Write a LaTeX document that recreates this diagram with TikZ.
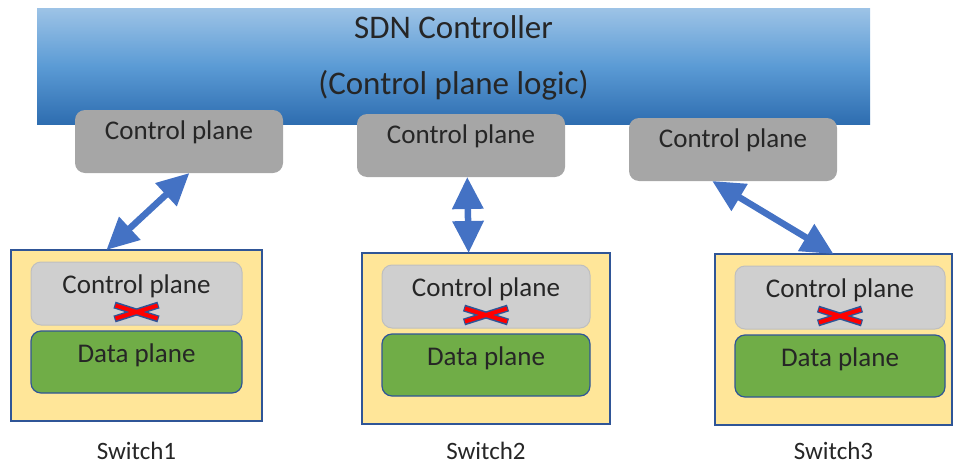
\documentclass[tikz,border=0pt]{standalone}
\usepackage{fontspec}
\setmainfont{Carlito}
\usepackage{xcolor}
\usetikzlibrary{arrows.meta,positioning,calc}

\definecolor{bartop}{HTML}{9DC3E6}
\definecolor{barmid}{HTML}{5B9BD5}
\definecolor{barbot}{HTML}{2E6DB0}
\definecolor{ctrlgray}{HTML}{A6A6A6}
\definecolor{innergray}{HTML}{CFCFCF}
\definecolor{datagreen}{HTML}{70AD47}
\definecolor{switchyellow}{HTML}{FFE699}
\definecolor{edgeblue}{HTML}{2F5597}
\definecolor{arrowblue}{HTML}{4472C4}

\begin{document}
\begin{tikzpicture}[x=1pt,y=-1pt,
    txt/.style={font=\fontsize{27}{32}\selectfont, text=black!85, inner sep=0pt},
    title/.style={font=\fontsize{33}{38}\selectfont},
    small/.style={font=\fontsize{25}{30}\selectfont},
    bar/.style={anchor=north west, minimum width=833pt, minimum height=116pt, inner sep=0pt, outer sep=0pt,
        top color=bartop, bottom color=barbot, middle color=barmid},
    cplane/.style={fill=ctrlgray, rounded corners=10pt, anchor=north west, minimum width=208pt, minimum height=63pt, inner sep=0pt, outer sep=0pt},
    switchbox/.style={draw=edgeblue, line width=1.5pt, fill=switchyellow, anchor=north west, minimum height=171pt, inner sep=0pt, outer sep=0pt},
    innerctrl/.style={draw=black!25, line width=1pt, fill=innergray, rounded corners=10pt, anchor=north west, minimum height=63pt, inner sep=0pt, outer sep=0pt},
    dataplane/.style={draw=edgeblue, line width=1.2pt, fill=datagreen, rounded corners=10pt, anchor=north west, minimum height=62pt, inner sep=0pt, outer sep=0pt},
    link/.style={{Triangle[length=32pt,width=30pt]}-{Triangle[length=32pt,width=30pt]}, line width=6.5pt, draw=arrowblue},
    crossout/.style={draw=edgeblue, line width=7pt},
    crossin/.style={draw=red, line width=4pt}
]
    \useasboundingbox (0,0) rectangle (953,466);

    % Controller bar
    \node[bar] (sdn) at (37,8) {};
    \node[txt, title, below=30pt of sdn.north, anchor=base] (sdnt) {SDN Controller};
    \node[txt, title, below=86pt of sdn.north, anchor=base] (sdnl) {(Control plane logic)};

    % Control planes under the controller
    \foreach \n/\x/\y in {1/75/110, 2/357/114, 3/629/118} {
        \node[cplane] (cp\n) at (\x,\y) {};
        \node[txt, below=29pt of cp\n.north, anchor=base] (cpt\n) {Control plane};
    }

    % Switches
    \foreach \n/\x/\y/\w/\iw in {1/11/250/251/211, 2/362/253/248/208, 3/715/254/237/210} {
        \node[switchbox, minimum width=\w pt] (sw\n) at (\x,\y) {};
        \node[innerctrl, minimum width=\iw pt] (ic\n) at (\x+20,\y+12) {};
        \node[txt, below=31pt of ic\n.north, anchor=base] (ict\n) {Control plane};
        \node[dataplane, minimum width=\iw pt] (dp\n) at (\x+20,\y+81) {};
        \node[txt, below=31pt of dp\n.north, anchor=base] (dpt\n) {Data plane};
        \node[txt, small, anchor=base] (lab\n) at (sw\n.south |- 0,459) {Switch\n};

        % Cross over the local control plane
        \coordinate (x\n) at ($(ic\n.south)+(0,-13)$);
        \draw[crossout] ($(x\n)+(-22,-7)$) -- ($(x\n)+(22,7)$);
        \draw[crossout] ($(x\n)+(-22,7)$) -- ($(x\n)+(22,-7)$);
        \draw[crossin] ($(x\n)+(-21,-6.5)$) -- ($(x\n)+(21,6.5)$);
        \draw[crossin] ($(x\n)+(-21,6.5)$) -- ($(x\n)+(21,-6.5)$);
    }

    % Links to the controller
    \draw[link] ($(sw1.north west)!0.38!(sw1.north east)$) -- ($(cp1.south west)!0.55!(cp1.south east)$);
    \draw[link] ($(sw2.north west)!0.43!(sw2.north east)$) -- ($(cp2.south west)!0.53!(cp2.south east)$);
    \draw[link] ($(cp3.south west)!0.40!(cp3.south east)$) -- ($(sw3.north west)!0.50!(sw3.north east)$);
\end{tikzpicture}
\end{document}
